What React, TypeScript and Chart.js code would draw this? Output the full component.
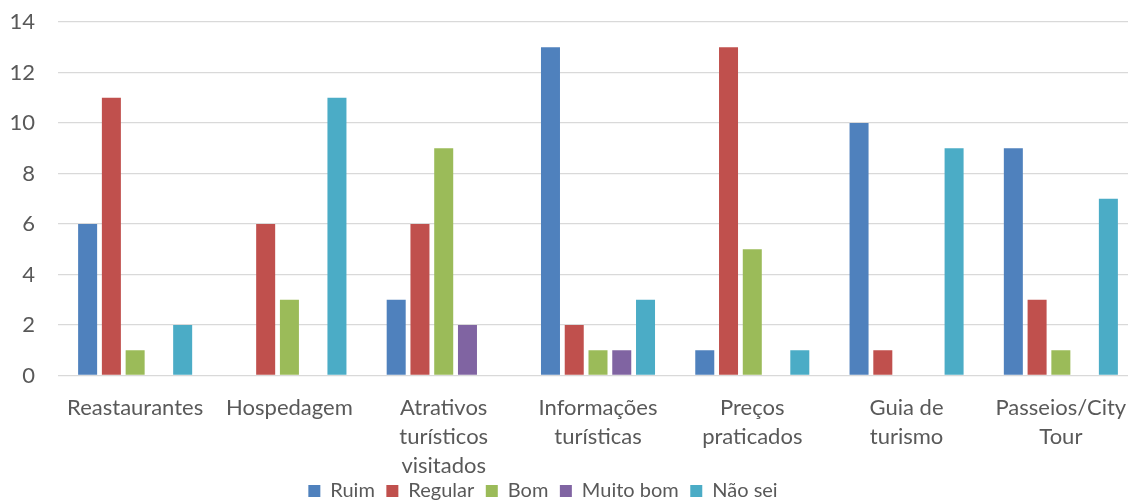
import React, { useEffect, useRef } from "react";
import { Chart, registerables } from "chart.js";

Chart.register(...registerables);

// Categories (multi-line labels) and survey counts per rating
const categories: string[][] = [
  ["Reastaurantes"],
  ["Hospedagem"],
  ["Atrativos", "turísticos", "visitados"],
  ["Informações", "turísticas"],
  ["Preços", "praticados"],
  ["Guia de", "turismo"],
  ["Passeios/City", "Tour"],
];
const seriesNames = ["Ruim", "Regular", "Bom", "Muito bom", "Não sei"];
const ruim = [6, 0, 3, 13, 1, 10, 9];
const regular = [11, 6, 6, 2, 13, 1, 3];
const bom = [1, 3, 9, 1, 5, 0, 1];
const muitoBom = [0, 0, 2, 1, 0, 0, 0];
const naoSei = [2, 11, 0, 3, 1, 9, 7];
const yMax = 14;
const yStep = 2;

const colors = ["#4F81BD", "#C0504D", "#9BBB59", "#8064A2", "#4BACC6"];
const textColor = "#595959";
const gridColor = "#D9D9D9";
const fontFamily = "Lato, 'Noto Sans', sans-serif";

// Moves the legend so it sits centred under the visible part of the chart
const legendOffset = {
  id: "legendOffset",
  afterLayout(chart: any) {
    const lg = chart.legend;
    if (!lg) return;
    const dx = -26;
    const dy = -13;
    lg.left += dx;
    lg.right += dx;
    lg.top += dy;
    lg.bottom += dy;
  },
};

export default function App() {
  const canvasRef = useRef<HTMLCanvasElement | null>(null);

  useEffect(() => {
    document.body.style.margin = "0";
    const canvas = canvasRef.current;
    if (!canvas) return;
    const allSeries = [ruim, regular, bom, muitoBom, naoSei];
    const chart = new Chart(canvas, {
      type: "bar",
      data: {
        labels: categories,
        datasets: allSeries.map((values, i) => ({
          label: seriesNames[i],
          data: values,
          backgroundColor: colors[i],
          borderWidth: 0,
          categoryPercentage: 0.77,
          barPercentage: 0.8,
        })),
      },
      plugins: [legendOffset],
      options: {
        animation: false,
        responsive: false,
        layout: { padding: { top: 22, right: 12, left: 0, bottom: 0 } },
        plugins: {
          tooltip: { enabled: false },
          legend: {
            position: "bottom",
            labels: {
              boxWidth: 12,
              boxHeight: 12,
              padding: 11.5,
              color: textColor,
              font: { family: fontFamily, size: 20 },
            },
          },
        },
        scales: {
          x: {
            grid: { display: false, drawTicks: false },
            border: { display: false },
            ticks: {
              color: textColor,
              font: { family: fontFamily, size: 22, lineHeight: 1.31 },
              padding: 18,
              maxRotation: 0,
              autoSkip: false,
            },
            afterFit(scale: any) {
              scale.height = 107;
            },
          },
          y: {
            min: 0,
            max: yMax,
            ticks: {
              stepSize: yStep,
              color: textColor,
              font: { family: fontFamily, size: 22 },
              padding: 23,
            },
            grid: { color: gridColor, lineWidth: 1.3, drawTicks: false },
            border: { display: false },
            afterFit(scale: any) {
              scale.width = 58;
              scale.paddingTop = 0;
              scale.paddingBottom = 0;
            },
          },
        },
      },
    });
    return () => chart.destroy();
  }, []);

  return (
    <div
      style={{
        position: "fixed",
        left: 0,
        top: 0,
        width: 1128,
        height: 501,
        overflow: "hidden",
        background: "#ffffff",
      }}
    >
      <canvas ref={canvasRef} width={1150} height={524} />
    </div>
  );
}
